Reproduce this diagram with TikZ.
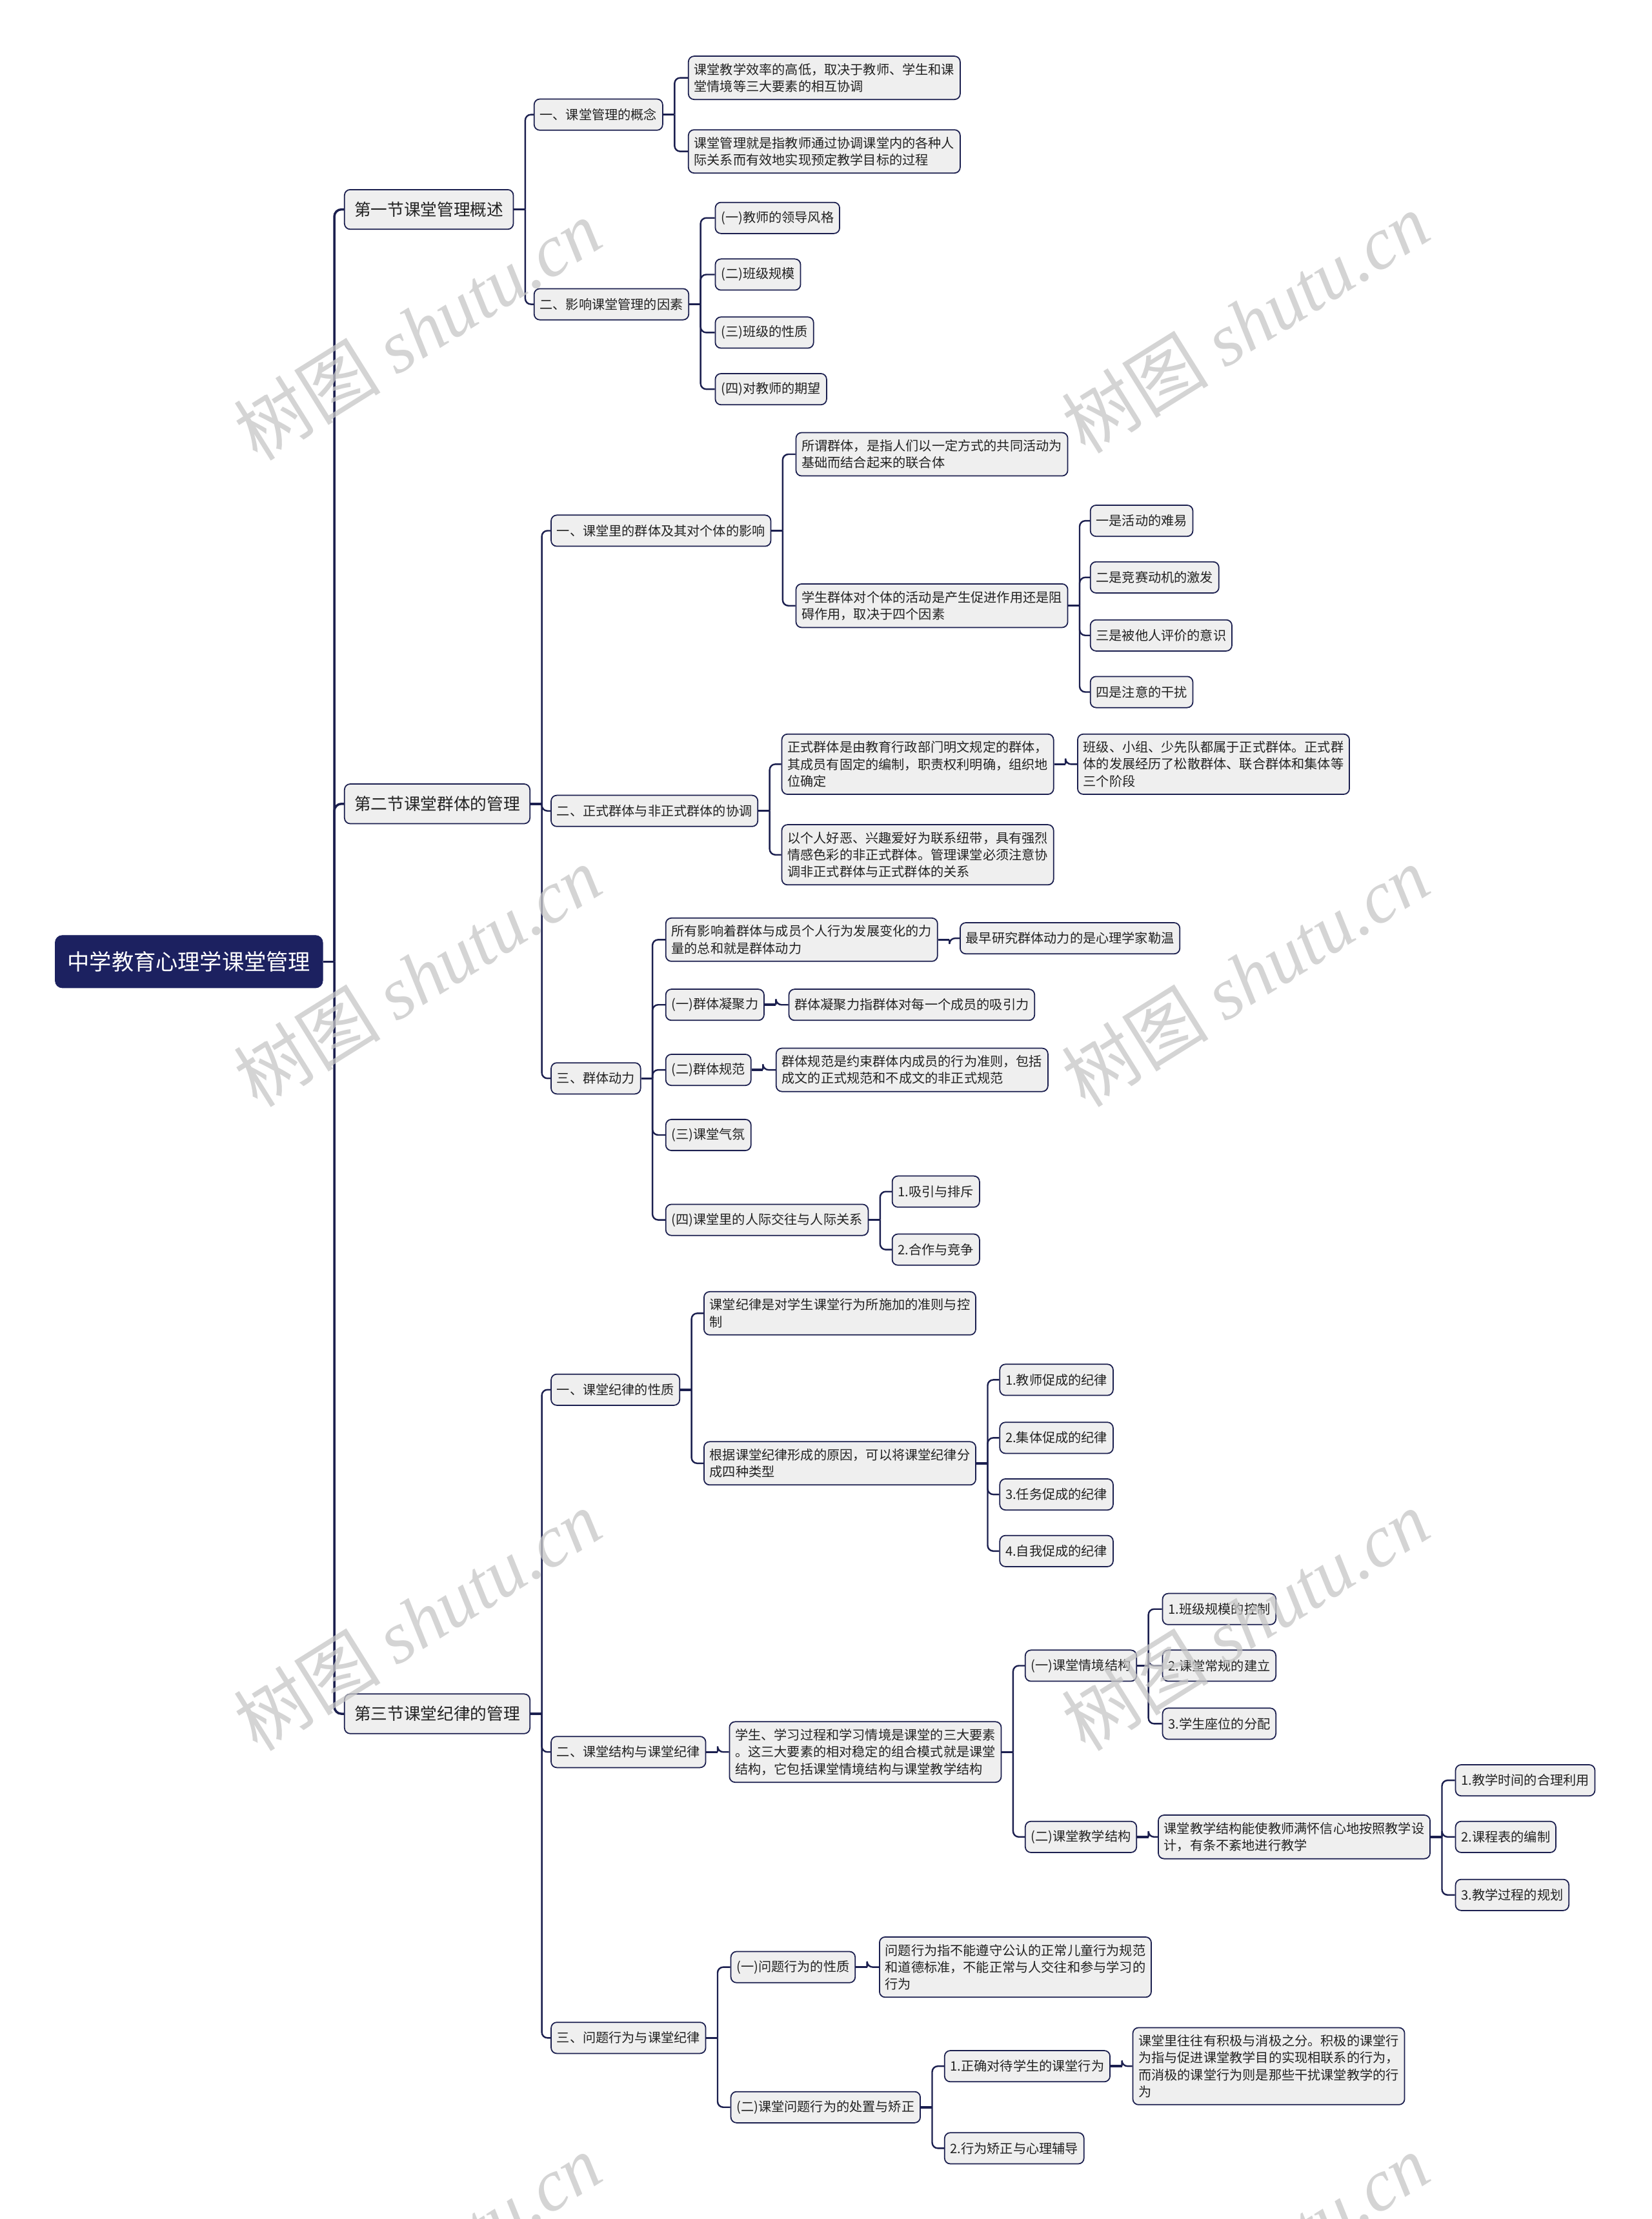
\documentclass[tikz,border=0pt]{standalone}
\usepackage{fontspec}
\setmainfont{Noto Sans CJK SC}
\newfontfamily\wmserif{Liberation Serif}
\usetikzlibrary{calc}
\definecolor{navy}{HTML}{1C2160}
\definecolor{linec}{HTML}{1B1F4F}
\definecolor{nodefill}{HTML}{EFEFEF}
\definecolor{txt}{HTML}{222222}
\tikzset{
  box/.style={draw=linec, line width=0.8pt, fill=nodefill, rounded corners=4pt,
    inner xsep=4pt, inner ysep=5pt, minimum height=22pt, anchor=west, align=left,
    font=\fontsize{9.2}{12}\selectfont, text=txt},
  sec/.style={box, minimum height=28pt, inner xsep=7pt, font=\fontsize{11.7}{14}\selectfont},
  rootbox/.style={fill=navy, draw=navy, rounded corners=5pt, text=white,
    font=\fontsize{15.6}{18}\selectfont, minimum width=189pt, minimum height=37pt, anchor=center, inner sep=0pt},
  conn/.style={draw=linec, line width=1.1pt, rounded corners=4pt},
  rootconn/.style={draw=linec, line width=1.6pt, rounded corners=5pt},
  stub/.style={draw=linec, line width=1.6pt},
  wm/.style={text=gray!45, opacity=0.75, font=\fontsize{52}{52}\selectfont, rotate=32, anchor=center},
}
\newcommand{\links}[3][conn]{%
  \draw[stub] (#2.east) -- ++(8,0) coordinate (j);
  \foreach \c in {#3} {\draw[#1] (j) |- (\c.west);}%
}
\begin{document}
\begin{tikzpicture}[x=1pt,y=-1pt]
\useasboundingbox (0,0) rectangle (1167,1568);
\fill[white] (0,0) rectangle (1167,1568);

% root
\node[rootbox] (root) at (133.5,679.5) {中学教育心理学课堂管理};

% level 1
\node[sec] (s1) at (243,148) {第一节课堂管理概述};
\node[sec] (s2) at (243,568) {第二节课堂群体的管理};
\node[sec] (s3) at (243,1211) {第三节课堂纪律的管理};

% section 1
\node[box] (a1) at (377,81) {一、课堂管理的概念};
\node[box] (a2) at (377,215) {二、影响课堂管理的因素};
\node[box] (a1x) at (486,55) {课堂教学效率的高低，取决于教师、学生和课\\堂情境等三大要素的相互协调};
\node[box] (a1y) at (486,107) {课堂管理就是指教师通过协调课堂内的各种人\\际关系而有效地实现预定教学目标的过程};
\node[box] (a2a) at (505,154) {(一)教师的领导风格};
\node[box] (a2b) at (505,194) {(二)班级规模};
\node[box] (a2c) at (505,235) {(三)班级的性质};
\node[box] (a2d) at (505,275) {(四)对教师的期望};

% section 2
\node[box] (b1) at (389,375) {一、课堂里的群体及其对个体的影响};
\node[box] (b2) at (389,573) {二、正式群体与非正式群体的协调};
\node[box] (b3) at (389,762) {三、群体动力};
\node[box] (b1x) at (562,321) {所谓群体，是指人们以一定方式的共同活动为\\基础而结合起来的联合体};
\node[box] (b1y) at (562,428) {学生群体对个体的活动是产生促进作用还是阻\\碍作用，取决于四个因素};
\node[box] (b1y1) at (770,368) {一是活动的难易};
\node[box] (b1y2) at (770,408) {二是竞赛动机的激发};
\node[box] (b1y3) at (770,449) {三是被他人评价的意识};
\node[box] (b1y4) at (770,489) {四是注意的干扰};
\node[box] (b2x) at (552,540) {正式群体是由教育行政部门明文规定的群体，\\其成员有固定的编制，职责权利明确，组织地\\位确定};
\node[box] (b2xx) at (761,540) {班级、小组、少先队都属于正式群体。正式群\\体的发展经历了松散群体、联合群体和集体等\\三个阶段};
\node[box] (b2y) at (552,604) {以个人好恶、兴趣爱好为联系纽带，具有强烈\\情感色彩的非正式群体。管理课堂必须注意协\\调非正式群体与正式群体的关系};
\node[box] (b3a) at (470,664) {所有影响着群体与成员个人行为发展变化的力\\量的总和就是群体动力};
\node[box] (b3ax) at (678,663) {最早研究群体动力的是心理学家勒温};
\node[box] (b3b) at (470,710) {(一)群体凝聚力};
\node[box] (b3bx) at (557,710) {群体凝聚力指群体对每一个成员的吸引力};
\node[box] (b3c) at (470,756) {(二)群体规范};
\node[box] (b3cx) at (548,756) {群体规范是约束群体内成员的行为准则，包括\\成文的正式规范和不成文的非正式规范};
\node[box] (b3d) at (470,802) {(三)课堂气氛};
\node[box] (b3e) at (470,862) {(四)课堂里的人际交往与人际关系};
\node[box] (b3e1) at (630,842) {1.吸引与排斥};
\node[box] (b3e2) at (630,883) {2.合作与竞争};

% section 3
\node[box] (c1) at (389,982) {一、课堂纪律的性质};
\node[box] (c2) at (389,1238) {二、课堂结构与课堂纪律};
\node[box] (c3) at (389,1440) {三、问题行为与课堂纪律};
\node[box] (c1x) at (497,928) {课堂纪律是对学生课堂行为所施加的准则与控\\制};
\node[box] (c1y) at (497,1034) {根据课堂纪律形成的原因，可以将课堂纪律分\\成四种类型};
\node[box] (c1y1) at (706,975) {1.教师促成的纪律};
\node[box] (c1y2) at (706,1016) {2.集体促成的纪律};
\node[box] (c1y3) at (706,1056) {3.任务促成的纪律};
\node[box] (c1y4) at (706,1096) {4.自我促成的纪律};
\node[box] (c2x) at (515,1238) {学生、学习过程和学习情境是课堂的三大要素\\。这三大要素的相对稳定的组合模式就是课堂\\结构，它包括课堂情境结构与课堂教学结构};
\node[box] (c2a) at (724,1177) {(一)课堂情境结构};
\node[box] (c2a1) at (821,1137) {1.班级规模的控制};
\node[box] (c2a2) at (821,1177) {2.课堂常规的建立};
\node[box] (c2a3) at (821,1218) {3.学生座位的分配};
\node[box] (c2b) at (724,1298) {(二)课堂教学结构};
\node[box] (c2bx) at (818,1298) {课堂教学结构能使教师满怀信心地按照教学设\\计，有条不紊地进行教学};
\node[box] (c2bx1) at (1028,1258) {1.教学时间的合理利用};
\node[box] (c2bx2) at (1028,1298) {2.课程表的编制};
\node[box] (c2bx3) at (1028,1339) {3.教学过程的规划};
\node[box] (c3a) at (516,1390) {(一)问题行为的性质};
\node[box] (c3ax) at (621,1390) {问题行为指不能遵守公认的正常儿童行为规范\\和道德标准，不能正常与人交往和参与学习的\\行为};
\node[box] (c3b) at (516,1489) {(二)课堂问题行为的处置与矫正};
\node[box] (c3b1) at (667,1460) {1.正确对待学生的课堂行为};
\node[box] (c3b1x) at (800,1460) {课堂里往往有积极与消极之分。积极的课堂行\\为指与促进课堂教学目的实现相联系的行为，\\而消极的课堂行为则是那些干扰课堂教学的行\\为};
\node[box] (c3b2) at (667,1518) {2.行为矫正与心理辅导};

% connectors
\links[rootconn]{root}{s1,s2,s3}
\links{s1}{a1,a2}
\links{a1}{a1x,a1y}
\links{a2}{a2a,a2b,a2c,a2d}
\links{s2}{b1,b2,b3}
\links{b1}{b1x,b1y}
\links{b1y}{b1y1,b1y2,b1y3,b1y4}
\links{b2}{b2x,b2y}
\links{b2x}{b2xx}
\links{b3}{b3a,b3b,b3c,b3d,b3e}
\links{b3a}{b3ax}
\links{b3b}{b3bx}
\links{b3c}{b3cx}
\links{b3e}{b3e1,b3e2}
\links{s3}{c1,c2,c3}
\links{c1}{c1x,c1y}
\links{c1y}{c1y1,c1y2,c1y3,c1y4}
\links{c2}{c2x}
\links{c2x}{c2a,c2b}
\links{c2a}{c2a1,c2a2,c2a3}
\links{c2b}{c2bx}
\links{c2bx}{c2bx1,c2bx2,c2bx3}
\links{c3}{c3a,c3b}
\links{c3a}{c3ax}
\links{c3b}{c3b1,c3b2}
\links{c3b1}{c3b1x}

% watermarks
\foreach \wx/\wy [count=\i] in {295/233,880/228,295/690,880/690,295/1145,880/1145,295/1600,880/1600}{
  \node[wm] (wm\i) at (\wx,\wy) {树图 {\wmserif\itshape shutu.cn}};
}
\end{tikzpicture}
\end{document}
